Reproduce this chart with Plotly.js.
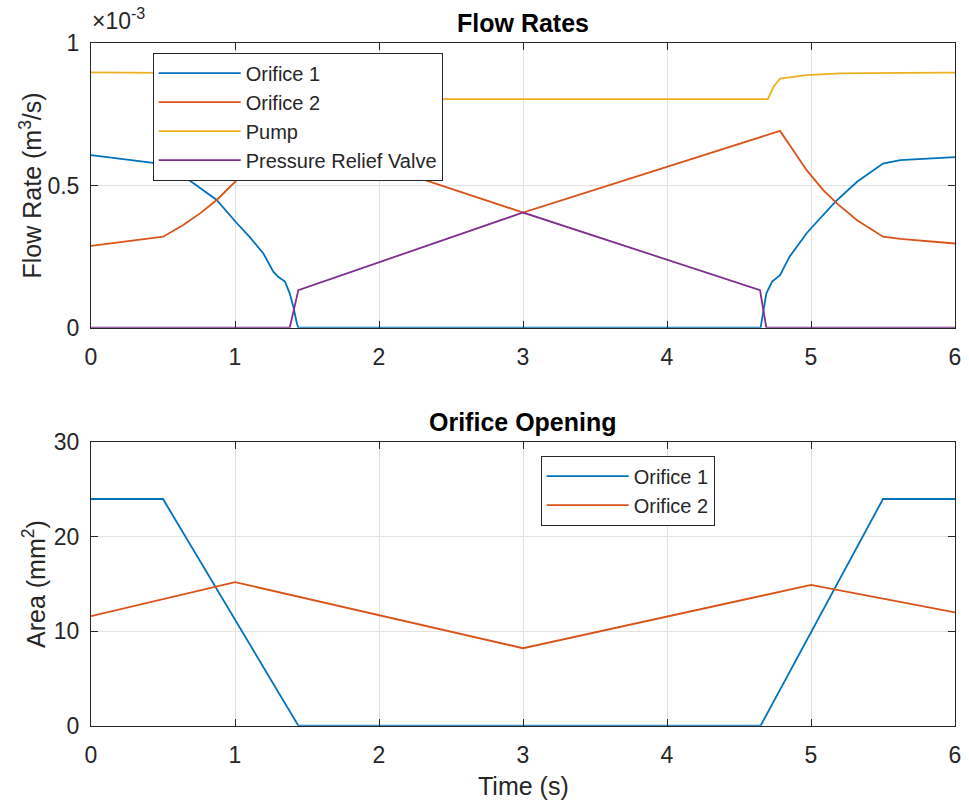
<!DOCTYPE html>
<html>
<head>
<meta charset="utf-8">
<script src="https://cdn.plot.ly/plotly-3.0.1.min.js"></script>
<style>html,body{margin:0;padding:0;background:#fff;}#chart{width:969px;height:808px;}</style>
</head>
<body>
<div id="chart"></div>
<script>
// ---- Flow rates (values in units of 1e-3 m^3/s) ----
const tOrifice1 = [0, 0.43, 0.5, 0.618, 0.757, 0.873, 1.01, 1.10, 1.197, 1.266, 1.30, 1.347, 1.38, 1.405, 1.43, 1.44, 4.65, 4.69, 4.73, 4.785, 4.85, 4.97, 5.01, 5.17, 5.32, 5.50, 5.62, 6.0];
const qOrifice1 = [0.607, 0.578, 0.575, 0.542, 0.492, 0.449, 0.369, 0.320, 0.261, 0.197, 0.179, 0.162, 0.121, 0.074, 0.015, 0, 0, 0.121, 0.162, 0.185, 0.249, 0.332, 0.355, 0.443, 0.513, 0.577, 0.589, 0.600];

const tOrifice2 = [0, 0.41, 0.502, 0.64, 0.757, 0.873, 0.965, 1.035, 1.07, 1.15, 1.22, 1.30, 3.0, 4.785, 4.877, 4.97, 5.085, 5.18, 5.32, 5.50, 5.62, 6.0];
const qOrifice2 = [0.288, 0.314, 0.320, 0.361, 0.402, 0.449, 0.495, 0.530, 0.548, 0.592, 0.642, 0.690, 0.405, 0.692, 0.624, 0.554, 0.484, 0.437, 0.378, 0.320, 0.312, 0.296];

const tPump = [0, 0.5, 1.0, 1.2, 1.30, 1.345, 1.38, 1.40, 4.70, 4.74, 4.785, 4.97, 5.2, 5.62, 6.0];
const qPump = [0.898, 0.897, 0.894, 0.887, 0.876, 0.847, 0.810, 0.804, 0.804, 0.847, 0.876, 0.888, 0.894, 0.896, 0.897];

const tRelief = [0, 1.38, 1.44, 3.0, 4.646, 4.69, 6.0];
const qRelief = [0, 0, 0.132, 0.405, 0.132, 0, 0];

// ---- Orifice opening (mm^2) ----
const tArea1 = [0, 0.5, 1.44, 4.65, 5.5, 6];
const area1 = [24, 24, 0, 0, 24, 24];
const tArea2 = [0, 1, 3, 5, 6];
const area2 = [11.6, 15.2, 8.2, 14.9, 12.0];

const timeTicks = [0, 1, 2, 3, 4, 5, 6];
const flowTicks = [0, 0.5, 1];
const flowTickText = ['0', '0.5', '1'];
const areaTicks = [0, 10, 20, 30];

const C1 = '#0072BD', C2 = '#D95319', C3 = '#EDB120', C4 = '#7E2F8E';
const FONT = 'Liberation Sans, Arial, Helvetica, sans-serif';
const AX = '#262626';
const LW = 1.8;

const traces = [
  {x: tOrifice1, y: qOrifice1, name: 'Orifice 1', type: 'scatter', mode: 'lines', line: {color: C1, width: LW}, xaxis: 'x', yaxis: 'y', legend: 'legend'},
  {x: tOrifice2, y: qOrifice2, name: 'Orifice 2', type: 'scatter', mode: 'lines', line: {color: C2, width: LW}, xaxis: 'x', yaxis: 'y', legend: 'legend'},
  {x: tPump, y: qPump, name: 'Pump', type: 'scatter', mode: 'lines', line: {color: C3, width: LW}, xaxis: 'x', yaxis: 'y', legend: 'legend'},
  {x: tRelief, y: qRelief, name: 'Pressure Relief Valve', type: 'scatter', mode: 'lines', line: {color: C4, width: LW}, xaxis: 'x', yaxis: 'y', legend: 'legend'},
  {x: tArea1, y: area1, name: 'Orifice 1', type: 'scatter', mode: 'lines', line: {color: C1, width: LW}, xaxis: 'x2', yaxis: 'y2', legend: 'legend2'},
  {x: tArea2, y: area2, name: 'Orifice 2', type: 'scatter', mode: 'lines', line: {color: C2, width: LW}, xaxis: 'x2', yaxis: 'y2', legend: 'legend2'}
];

const W = 969, H = 808;
const xDom = [91 / W, 955 / W];
const axCommon = {
  ticks: 'inside', ticklen: 7, tickcolor: AX, tickwidth: 1,
  showline: true, linecolor: AX, linewidth: 1, mirror: 'ticks',
  showgrid: true, gridcolor: '#e2e2e2', gridwidth: 1, zeroline: false,
  tickfont: {family: FONT, size: 23, color: AX}, automargin: false, fixedrange: true
};

const layout = {
  width: W, height: H,
  margin: {l: 0, r: 0, t: 0, b: 0},
  paper_bgcolor: '#ffffff', plot_bgcolor: '#ffffff',
  font: {family: FONT, color: AX},
  xaxis: Object.assign({}, axCommon, {domain: xDom, anchor: 'y', range: [0, 6], tickvals: timeTicks, ticklabelstandoff: 9}),
  yaxis: Object.assign({}, axCommon, {domain: [1 - 327.7 / H, 1 - 43.3 / H], anchor: 'x', range: [0, 1], tickvals: flowTicks, ticktext: flowTickText, ticklabelstandoff: 6}),
  xaxis2: Object.assign({}, axCommon, {domain: xDom, anchor: 'y2', range: [0, 6], tickvals: timeTicks, ticklabelstandoff: 9}),
  yaxis2: Object.assign({}, axCommon, {domain: [1 - 725.7 / H, 1 - 442.3 / H], anchor: 'x2', range: [0, 30], tickvals: areaTicks, ticklabelstandoff: 6}),
  legend: {x: 152.7 / W, y: 1 - 52.7 / H, xanchor: 'left', yanchor: 'top', bgcolor: '#ffffff', bordercolor: AX, borderwidth: 1, font: {family: FONT, size: 20, color: AX}, itemwidth: 82, tracegroupgap: 0},
  legend2: {x: 540.7 / W, y: 1 - 455.7 / H, xanchor: 'left', yanchor: 'top', bgcolor: '#ffffff', bordercolor: AX, borderwidth: 1, font: {family: FONT, size: 20, color: AX}, itemwidth: 82, tracegroupgap: 0},
  showlegend: true,
  annotations: [
    {text: '<b>Flow Rates</b>', xref: 'paper', yref: 'paper', x: 523 / W, y: 1 - 23 / H, xanchor: 'center', yanchor: 'middle', showarrow: false, font: {family: FONT, size: 25, color: '#000'}},
    {text: '<b>Orifice Opening</b>', xref: 'paper', yref: 'paper', x: 523 / W, y: 1 - 422 / H, xanchor: 'center', yanchor: 'middle', showarrow: false, font: {family: FONT, size: 25, color: '#000'}},
    {text: 'Flow Rate (m<sup>3</sup>/s)', xref: 'paper', yref: 'paper', x: 30 / W, y: 1 - 185.5 / H, xanchor: 'center', yanchor: 'middle', textangle: -90, showarrow: false, font: {family: FONT, size: 25, color: AX}},
    {text: 'Area (mm<sup>2</sup>)', xref: 'paper', yref: 'paper', x: 34 / W, y: 1 - 584 / H, xanchor: 'center', yanchor: 'middle', textangle: -90, showarrow: false, font: {family: FONT, size: 25, color: AX}},
    {text: 'Time (s)', xref: 'paper', yref: 'paper', x: 523 / W, y: 1 - 786 / H, xanchor: 'center', yanchor: 'middle', showarrow: false, font: {family: FONT, size: 25, color: AX}},
    {text: '×10<sup>-3</sup>', xref: 'paper', yref: 'paper', x: 90 / W, y: 1 - 36 / H, xanchor: 'left', yanchor: 'bottom', showarrow: false, font: {family: FONT, size: 23, color: AX}}
  ]
};

Plotly.newPlot('chart', traces, layout, {staticPlot: true, displayModeBar: false});
</script>
</body>
</html>
